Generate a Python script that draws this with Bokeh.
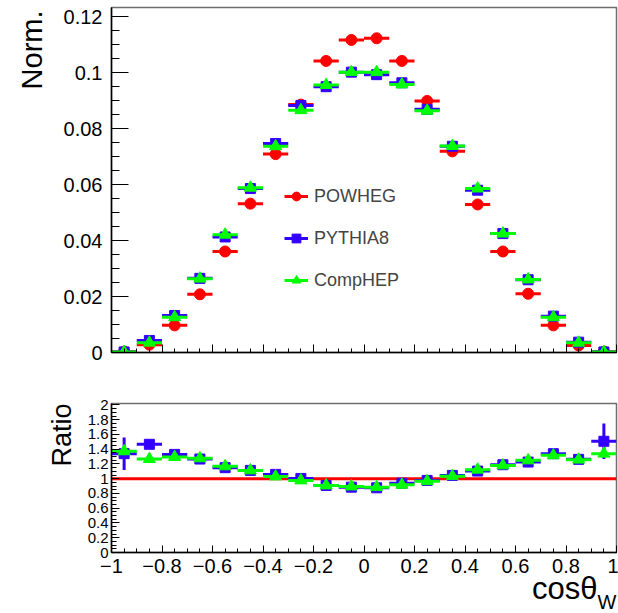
import numpy as np
from bokeh.plotting import figure
from bokeh.layouts import column
from bokeh.models import (FixedTicker, CustomJSTickFormatter, Legend, LegendItem,
                          Span, Range1d, ColumnDataSource, Title)
from bokeh.embed import file_html
from bokeh.resources import INLINE

# ---------------- data ----------------
bin_centers = [-0.95, -0.85, -0.75, -0.65, -0.55, -0.45, -0.35, -0.25, -0.15, -0.05,
               0.05, 0.15, 0.25, 0.35, 0.45, 0.55, 0.65, 0.75, 0.85, 0.95]
bin_width = 0.1

powheg = [0.0003, 0.0028, 0.0097, 0.0208, 0.0361, 0.0532, 0.0709, 0.0886, 0.1042, 0.1117,
          0.1123, 0.1042, 0.0899, 0.0719, 0.0529, 0.0361, 0.0210, 0.0097, 0.0025, 0.0003]
pythia8 = [0.0002, 0.0043, 0.0132, 0.0265, 0.0413, 0.0586, 0.0747, 0.0883, 0.0950, 0.1002,
           0.0993, 0.0964, 0.0869, 0.0737, 0.0580, 0.0425, 0.0260, 0.0130, 0.0037, 0.0002]
comphep = [0.0002, 0.0035, 0.0126, 0.0264, 0.0421, 0.0589, 0.0737, 0.0866, 0.0956, 0.1002,
           0.1002, 0.0958, 0.0864, 0.0738, 0.0586, 0.0425, 0.0261, 0.0126, 0.0035, 0.0002]

ratio_pythia8 = [1.34, 1.467, 1.33, 1.267, 1.15, 1.113, 1.059, 1.004, 0.909, 0.886,
                 0.877, 0.94, 0.977, 1.045, 1.104, 1.19, 1.226, 1.34, 1.263, 1.508]
ratio_pythia8_err = [0.22, 0.04, 0.03, 0.02, 0.02, 0.01, 0.01, 0.01, 0.01, 0.01,
                     0.01, 0.01, 0.01, 0.01, 0.01, 0.02, 0.02, 0.03, 0.04, 0.24]
ratio_comphep = [1.372, 1.267, 1.294, 1.277, 1.168, 1.113, 1.031, 0.977, 0.909, 0.895,
                 0.886, 0.918, 0.967, 1.035, 1.123, 1.181, 1.249, 1.317, 1.259, 1.34]
ratio_comphep_err = [0.05, 0.03, 0.02, 0.02, 0.01, 0.01, 0.01, 0.01, 0.01, 0.01,
                     0.01, 0.01, 0.01, 0.01, 0.01, 0.01, 0.02, 0.02, 0.03, 0.05]

x_ticks = [-1, -0.8, -0.6, -0.4, -0.2, 0, 0.2, 0.4, 0.6, 0.8, 1]
norm_ticks = [0, 0.02, 0.04, 0.06, 0.08, 0.1, 0.12]
ratio_ticks = [0, 0.2, 0.4, 0.6, 0.8, 1, 1.2, 1.4, 1.6, 1.8, 2]

series_names = ["POWHEG", "PYTHIA8", "CompHEP"]
series_colors = ["#ff0000", "#3300ff", "#00ff00"]
series_markers = ["circle", "square", "triangle"]
series_sizes = [11, 10, 12]

FONT = "Liberation Sans"
x_minor = list(np.round(np.arange(-1, 1.0001, 0.05), 3))
norm_minor = list(np.round(np.arange(0, 0.1231, 0.005), 4))
ratio_minor = list(np.round(np.arange(0, 2.0001, 0.05), 3))

fmt = CustomJSTickFormatter(code="""
const s = (Math.round(tick*10000)/10000).toString();
return s.replace('-', '\\u2212');
""")
blank_fmt = CustomJSTickFormatter(code="return '';")

left = [c - bin_width / 2 for c in bin_centers]
right = [c + bin_width / 2 for c in bin_centers]


def style_axes(p):
    p.grid.visible = False
    p.outline_line_color = "#6e6e6e"
    p.outline_line_width = 1.5
    for ax in (p.xaxis[0], p.yaxis[0]):
        ax.axis_line_color = "black"
        ax.axis_line_width = 1.5
        ax.major_tick_line_color = "black"
        ax.minor_tick_line_color = "black"
        ax.major_tick_out = 0
        ax.minor_tick_out = 0
        ax.major_label_text_font = FONT
        ax.major_label_text_color = "black"


# ---------------- top panel ----------------
p1 = figure(width=618, height=378, x_range=Range1d(-1, 1), y_range=Range1d(0, 0.1233),
            output_backend="svg", toolbar_location=None,
            min_border_left=110, min_border_right=2, min_border_top=7, min_border_bottom=26)
style_axes(p1)
p1.xaxis.ticker = FixedTicker(ticks=x_ticks, minor_ticks=x_minor)
p1.xaxis.formatter = blank_fmt
p1.xaxis.major_tick_in = 8
p1.xaxis.minor_tick_in = 4
p1.yaxis.ticker = FixedTicker(ticks=norm_ticks, minor_ticks=norm_minor)
p1.yaxis.formatter = fmt
p1.yaxis.major_tick_in = 17
p1.yaxis.minor_tick_in = 8
p1.yaxis.major_label_text_font_size = "20px"
p1.yaxis.major_label_standoff = 9

items = []
for name, vals, col, mk, sz in zip(series_names, [powheg, pythia8, comphep],
                                   series_colors, series_markers, series_sizes):
    src = ColumnDataSource(dict(x=bin_centers, l=left, r=right, y=vals))
    seg = p1.segment(x0="l", y0="y", x1="r", y1="y", source=src, line_color=col, line_width=3)
    sc = p1.scatter(x="x", y="y", source=src, marker=mk, size=sz, fill_color=col, line_color=col)
    items.append(LegendItem(label=name, renderers=[seg, sc]))

legend = Legend(items=items, location=(173, 61), border_line_alpha=0, background_fill_alpha=0,
                label_text_font=FONT, label_text_font_size="18px", glyph_width=24,
                glyph_height=22, label_height=22, spacing=20, padding=0, margin=0,
                label_standoff=6)
p1.add_layout(legend)

p1.add_layout(Title(text="Norm.", align="right", vertical_align="bottom", offset=3,
                    standoff=26, text_font=FONT, text_font_size="29px",
                    text_font_style="normal", text_color="black"), "left")

# ---------------- ratio panel ----------------
p2 = figure(width=618, height=234, x_range=p1.x_range, y_range=Range1d(0, 2.02),
            output_backend="svg", toolbar_location=None,
            min_border_left=110, min_border_right=2, min_border_top=25, min_border_bottom=60)
style_axes(p2)
p2.xaxis.ticker = FixedTicker(ticks=x_ticks, minor_ticks=x_minor)
p2.xaxis.formatter = fmt
p2.xaxis.major_tick_in = 7
p2.xaxis.minor_tick_in = 4
p2.xaxis.major_label_text_font_size = "20px"
p2.xaxis.major_label_standoff = 6
p2.yaxis.ticker = FixedTicker(ticks=ratio_ticks, minor_ticks=ratio_minor)
p2.yaxis.formatter = fmt
p2.yaxis.major_tick_in = 8
p2.yaxis.minor_tick_in = 5
p2.yaxis.major_label_text_font_size = "15px"
p2.yaxis.major_label_standoff = 3

p2.add_layout(Span(location=1, dimension="width", line_color="#ff0000", line_width=3,
                   level="underlay"))

for vals, errs, col, mk, sz in zip([ratio_pythia8, ratio_comphep],
                                   [ratio_pythia8_err, ratio_comphep_err],
                                   series_colors[1:], series_markers[1:], series_sizes[1:]):
    lo = [v - e for v, e in zip(vals, errs)]
    hi = [v + e for v, e in zip(vals, errs)]
    src = ColumnDataSource(dict(x=bin_centers, l=left, r=right, y=vals, lo=lo, hi=hi))
    p2.segment(x0="l", y0="y", x1="r", y1="y", source=src, line_color=col, line_width=3)
    p2.segment(x0="x", y0="lo", x1="x", y1="hi", source=src, line_color=col, line_width=3)
    p2.scatter(x="x", y="y", source=src, marker=mk, size=sz, fill_color=col, line_color=col)

p2.add_layout(Title(text="Ratio", align="right", vertical_align="bottom", offset=0,
                    standoff=15, text_font=FONT, text_font_size="27px",
                    text_font_style="normal", text_color="black"), "left")
p2.add_layout(Title(text="cosθ", align="right", vertical_align="top", offset=19,
                    standoff=-10, text_font=FONT, text_font_size="31px",
                    text_font_style="normal", text_color="black"), "below")
p2.add_layout(Title(text="W", align="right", vertical_align="top", offset=0,
                    standoff=-24, text_font=FONT, text_font_size="20px",
                    text_font_style="normal", text_color="black"), "below")

layout = column(p1, p2, spacing=0)
open("out.html", "w").write(file_html(layout, INLINE))
